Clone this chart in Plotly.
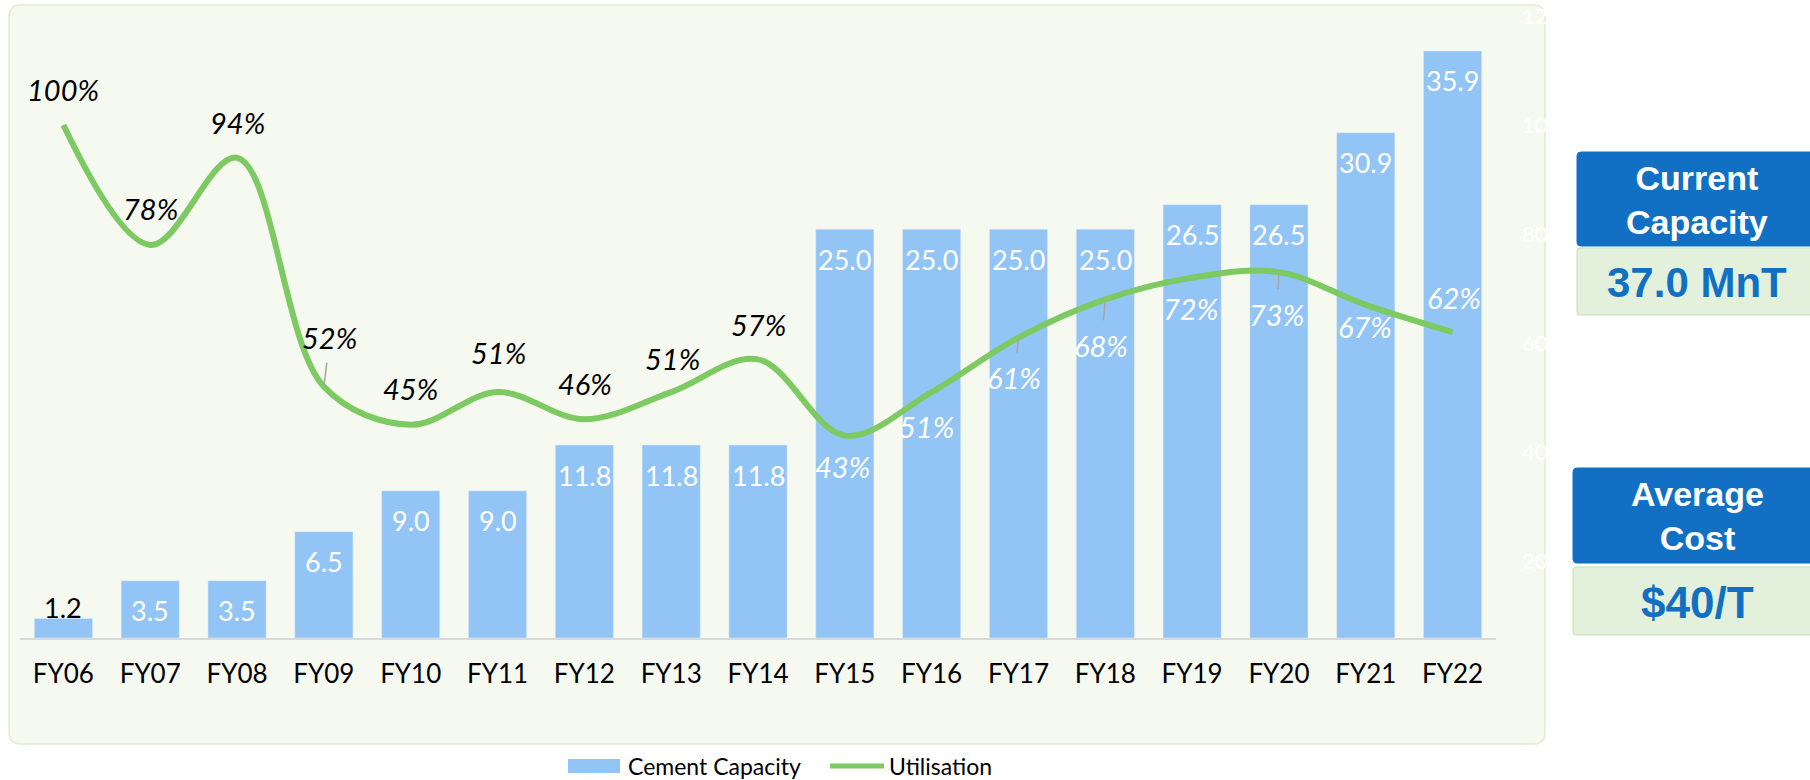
import plotly.graph_objects as go

W, H = 1810, 780

# ---------------- data ----------------
categories = ["FY06", "FY07", "FY08", "FY09", "FY10", "FY11", "FY12", "FY13", "FY14",
              "FY15", "FY16", "FY17", "FY18", "FY19", "FY20", "FY21", "FY22"]
capacity = [1.2, 3.5, 3.5, 6.5, 9.0, 9.0, 11.8, 11.8, 11.8,
            25.0, 25.0, 25.0, 25.0, 26.5, 26.5, 30.9, 35.9]
utilisation = [1.00, 0.78, 0.94, 0.52, 0.45, 0.51, 0.46, 0.51, 0.57,
               0.43, 0.51, 0.61, 0.68, 0.72, 0.73, 0.67, 0.62]
util_ticks = [0.2, 0.4, 0.6, 0.8, 1.0, 1.2]
util_tick_labels = ["20%", "40%", "60%", "80%", "100%", "120%"]
series_names = ["Cement Capacity", "Utilisation"]
box_titles = ["Current<br>Capacity", "Average<br>Cost"]
box_values = ["37.0 MnT", "$40/T"]

# ---------------- style ----------------
BAR = "#92C5F5"
GREEN = "#7DC962"
PANEL_BG = "#F6F9F0"
PANEL_BORDER = "#E2ECD0"
BLUE = "#1170C4"
BOX_GREEN = "#E2F0DC"
BOX_GREEN_BORDER = "#D3E6C2"
FONT = "Lato"

def fx(px):
    return px / W

def fy(py):
    return 1 - py / H

def rrect(x0, y0, x1, y1, r):
    pts = [
        f"M{fx(x0 + r)},{fy(y0)}",
        f"L{fx(x1 - r)},{fy(y0)}",
        f"Q{fx(x1)},{fy(y0)} {fx(x1)},{fy(y0 + r)}",
        f"L{fx(x1)},{fy(y1 - r)}",
        f"Q{fx(x1)},{fy(y1)} {fx(x1 - r)},{fy(y1)}",
        f"L{fx(x0 + r)},{fy(y1)}",
        f"Q{fx(x0)},{fy(y1)} {fx(x0)},{fy(y1 - r)}",
        f"L{fx(x0)},{fy(y0 + r)}",
        f"Q{fx(x0)},{fy(y0)} {fx(x0 + r)},{fy(y0)}",
        "Z",
    ]
    return " ".join(pts)

fig = go.Figure()
fig.add_trace(go.Bar(x=categories, y=capacity, name=series_names[0], marker_color=BAR,
                     width=0.67, yaxis="y", showlegend=False))
fig.add_trace(go.Scatter(x=categories, y=utilisation, name=series_names[1], mode="lines",
                         line=dict(color=GREEN, width=6, shape="spline", smoothing=1.0),
                         yaxis="y2", showlegend=False))

shapes = []
# chart panel
shapes.append(dict(type="path", xref="paper", yref="paper", layer="below",
                   path=rrect(9, 5, 1545, 744, 12), fillcolor=PANEL_BG,
                   line=dict(color=PANEL_BORDER, width=1.5)))
# side boxes
shapes.append(dict(type="path", xref="paper", yref="paper", path=rrect(1577, 152, 1830, 246, 4),
                   fillcolor=BLUE, line=dict(color=BLUE, width=1)))
shapes.append(dict(type="path", xref="paper", yref="paper", path=rrect(1577, 248, 1830, 315, 4),
                   fillcolor=BOX_GREEN, line=dict(color=BOX_GREEN_BORDER, width=1.5)))
shapes.append(dict(type="path", xref="paper", yref="paper", path=rrect(1573, 468, 1830, 563, 4),
                   fillcolor=BLUE, line=dict(color=BLUE, width=1)))
shapes.append(dict(type="path", xref="paper", yref="paper", path=rrect(1573, 567, 1830, 635, 4),
                   fillcolor=BOX_GREEN, line=dict(color=BOX_GREEN_BORDER, width=1.5)))
# legend swatches
shapes.append(dict(type="rect", xref="paper", yref="paper", x0=fx(568), x1=fx(620),
                   y0=fy(773), y1=fy(759), fillcolor=BAR, line=dict(width=0)))
shapes.append(dict(type="line", xref="paper", yref="paper", x0=fx(830), x1=fx(884),
                   y0=fy(766), y1=fy(766), line=dict(color=GREEN, width=5)))

annotations = []
# bar value labels
for i, (c, v) in enumerate(zip(categories, capacity)):
    if i == 0:
        annotations.append(dict(x=c, y=v, xref="x", yref="y", text=f"{v:.1f}", showarrow=False,
                                yshift=11, font=dict(family=FONT, size=27, color="black")))
    else:
        annotations.append(dict(x=c, y=v, xref="x", yref="y", text=f"{v:.1f}", showarrow=False,
                                yshift=-30, font=dict(family=FONT, size=27, color="white")))

# utilisation labels: (dx, dy) pixel offsets, leader flag
label_offsets = [(0, -36, False), (0, -36, False), (0, -35, False), (6, -49, True),
                 (0, -36, False), (1, -40, False), (1, -36, False), (1, -34, False),
                 (0, -35, False), (-2, 31, False), (-5, 34, False), (-4, 40, True),
                 (-4, 46, True), (-2, 31, False), (-2, 42, True), (-1, 22, False),
                 (1, -35, False)]
for i, (c, u) in enumerate(zip(categories, utilisation)):
    dx, dy, leader = label_offsets[i]
    col = "black" if i < 9 else "white"
    txt = f"<i>{round(u * 100)}%</i>"
    if leader:
        annotations.append(dict(x=c, y=u, xref="x", yref="y2", text=txt, showarrow=True,
                                ax=dx, ay=dy, arrowhead=0, arrowwidth=1.5, arrowcolor="#A6A6A6",
                                standoff=2, startstandoff=6,
                                font=dict(family=FONT, size=29, color=col)))
    else:
        annotations.append(dict(x=c, y=u, xref="x", yref="y2", text=txt, showarrow=False,
                                xshift=dx, yshift=-dy,
                                font=dict(family=FONT, size=29, color=col)))

# 0% tick label (below the visible range of the secondary axis)
annotations.append(dict(x=fx(1521), y=0, xref="paper", yref="y2", text="0%", showarrow=False,
                        xanchor="left", yanchor="middle",
                        font=dict(family=FONT, size=22, color="white")))

# legend texts
annotations.append(dict(x=fx(626), y=fy(766), xref="paper", yref="paper", text=series_names[0],
                        showarrow=False, xanchor="left", yanchor="middle",
                        font=dict(family=FONT, size=23, color="black")))
annotations.append(dict(x=fx(887), y=fy(766), xref="paper", yref="paper", text=series_names[1],
                        showarrow=False, xanchor="left", yanchor="middle",
                        font=dict(family=FONT, size=23, color="black")))

# side box texts
box_text = [
    (f"<b>{box_titles[0]}</b>", 200, 34, "white"),
    (f"<b>{box_values[0]}</b>", 282, 42, BLUE),
    (f"<b>{box_titles[1]}</b>", 516, 34, "white"),
    (f"<b>{box_values[1]}</b>", 602, 44, BLUE),
]
for t, yy, sz, col in box_text:
    annotations.append(dict(x=fx(1697), y=fy(yy), xref="paper", yref="paper", text=t,
                            showarrow=False, xanchor="center", yanchor="middle",
                            font=dict(family="Liberation Sans", size=sz, color=col)))

fig.update_layout(
    width=W, height=H,
    margin=dict(l=0, r=0, t=0, b=0, autoexpand=False),
    paper_bgcolor="white",
    plot_bgcolor="rgba(0,0,0,0)",
    showlegend=False,
    bargap=0.33,
    xaxis=dict(domain=[fx(20), fx(1496)], type="category", range=[-0.5, 16.5],
               showline=True, linecolor="#D9D9D9", linewidth=2, ticks="",
               showgrid=False, zeroline=False, ticklabelstandoff=12,
               tickfont=dict(family=FONT, size=26, color="black")),
    yaxis=dict(domain=[fy(638), fy(16)], range=[0, 38.04], visible=False,
               showgrid=False, zeroline=False),
    yaxis2=dict(overlaying="y", side="right", anchor="x", range=[0.0587, 1.2],
                tickvals=util_ticks, ticktext=util_tick_labels, showgrid=False,
                zeroline=False, showline=False, ticks="", ticklabelstandoff=25,
                tickfont=dict(family=FONT, size=22, color="white")),
    shapes=shapes,
    annotations=annotations,
)

fig.write_html("out.html", config={"displayModeBar": False},
               post_script="document.body.style.margin='0';document.body.style.overflow='hidden';")
